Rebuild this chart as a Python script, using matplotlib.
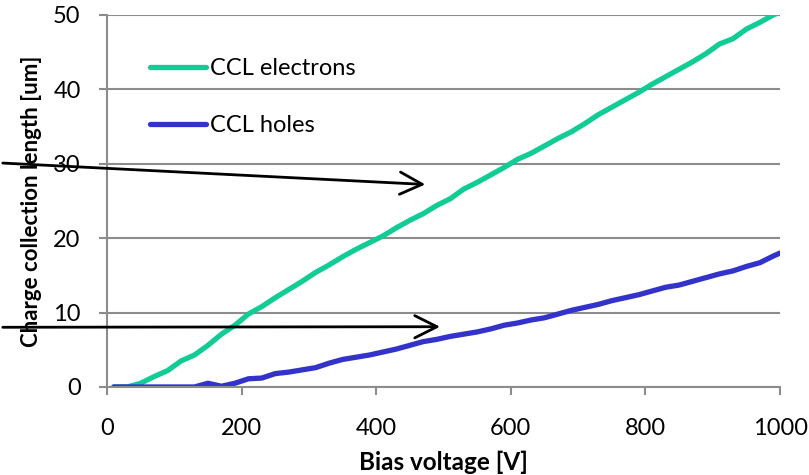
import numpy as np
import matplotlib
matplotlib.use('Agg')
import matplotlib.pyplot as plt

plt.rcParams['font.family'] = ['Lato', 'DejaVu Sans']

# bias scan, volts
bias = [10, 30, 50, 70, 90, 110, 130, 150, 170, 190,
        210, 230, 250, 270, 290, 310, 330, 350, 370, 390,
        410, 430, 450, 470, 490, 510, 530, 550, 570, 590,
        610, 630, 650, 670, 690, 710, 730, 750, 770, 790,
        810, 830, 850, 870, 890, 910, 930, 950, 970, 990, 1000]

# charge collection length, um
ccl_e = [0, 0, 0.5, 1.4, 2.2, 3.5, 4.3, 5.6, 7.1, 8.3,
         9.8, 10.8, 12.0, 13.1, 14.2, 15.4, 16.4, 17.5, 18.5, 19.4,
         20.3, 21.4, 22.4, 23.3, 24.4, 25.3, 26.6, 27.5, 28.5, 29.5,
         30.6, 31.4, 32.4, 33.4, 34.3, 35.4, 36.6, 37.6, 38.6, 39.6,
         40.7, 41.7, 42.7, 43.7, 44.8, 46.1, 46.8, 48.1, 49.0, 50.0, 50.4]
ccl_h = [0, 0, 0, 0, 0, 0, 0, 0.5, 0.1, 0.5,
         1.1, 1.2, 1.8, 2.0, 2.3, 2.6, 3.2, 3.7, 4.0, 4.3,
         4.7, 5.1, 5.6, 6.1, 6.4, 6.8, 7.1, 7.4, 7.8, 8.3,
         8.6, 9.0, 9.3, 9.8, 10.3, 10.7, 11.1, 11.6, 12.0, 12.4,
         12.9, 13.4, 13.7, 14.2, 14.7, 15.2, 15.6, 16.2, 16.7, 17.6, 18.0]

# arrow tips (V, um)
tip_e = (477, 27.2)
tip_h = (499, 8.1)

fig = plt.figure(figsize=(8.09, 4.75), dpi=100)
ax = fig.add_axes([0.1323, 0.1853, 0.8319, 0.7832])

gridc = '#8c8c8c'
ax.plot(bias, ccl_e, color='#12cc96', lw=3.8, solid_capstyle='round', label='CCL electrons')
ax.plot(bias, ccl_h, color='#3333cc', lw=3.8, solid_capstyle='round', label='CCL holes')

ax.set_xlim(0, 1000)
ax.set_ylim(0, 50)
ax.set_xticks([0, 200, 400, 600, 800, 1000])
ax.set_yticks([0, 10, 20, 30, 40, 50])
ax.yaxis.grid(True, color=gridc, lw=1.5)
ax.set_axisbelow(True)
for s in ['top', 'right']:
    ax.spines[s].set_visible(False)
for s in ['left', 'bottom']:
    ax.spines[s].set_color(gridc)
    ax.spines[s].set_linewidth(1.5)
ax.tick_params(axis='both', direction='out', length=6, width=1.5, color=gridc,
               labelsize=17)
ax.tick_params(axis='x', pad=16)
ax.tick_params(axis='y', pad=13)

ax.set_xlabel('Bias voltage [V]', fontsize=17.5, fontweight='bold', labelpad=9)
ax.set_ylabel('Charge collection length [um]', fontsize=16, fontweight='bold', labelpad=8)

ax.legend(loc='upper left', bbox_to_anchor=(0.05, 0.91), frameon=False, fontsize=17,
          handlelength=2.35, handletextpad=0.2, labelspacing=1.55, borderaxespad=0)

# arrows coming in from the left edge
ax.annotate('', xy=tip_e, xycoords='data', xytext=(0, 0.657), textcoords='figure fraction',
            arrowprops=dict(arrowstyle='->', color='black', lw=2, mutation_scale=40),
            annotation_clip=False)
ax.annotate('', xy=tip_h, xycoords='data', xytext=(0, 0.311), textcoords='figure fraction',
            arrowprops=dict(arrowstyle='->', color='black', lw=2, mutation_scale=40),
            annotation_clip=False)

fig.savefig('out.png', dpi=100)
